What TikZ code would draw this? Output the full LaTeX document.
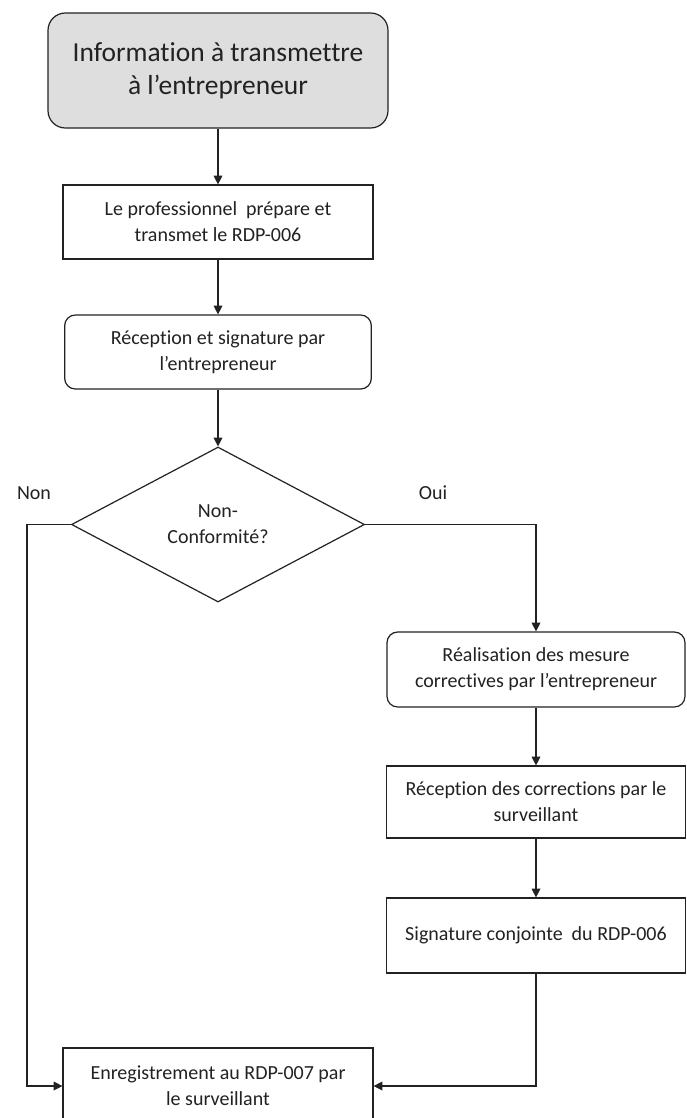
\documentclass[tikz,border=0pt]{standalone}
\usepackage{fontspec}
\setmainfont{Carlito}[Ligatures=NoCommon]
\usetikzlibrary{shapes.geometric,arrows.meta}
\definecolor{boxgray}{HTML}{DEDEDE}
\definecolor{ink}{HTML}{222222}
\tikzset{
  etape/.style={draw=ink,line width=0.9pt,text=ink,align=center,
    font=\fontsize{15}{19.5}\selectfont,minimum width=232.5pt,minimum height=55.5pt,inner sep=2pt},
  etaperonde/.style={etape,rounded corners=8pt},
  decision/.style={etape,diamond,aspect=1.89,minimum width=219.75pt,minimum height=116.25pt,inner sep=0pt},
  reponse/.style={text=ink,font=\fontsize{15}{19.5}\selectfont},
  fleche/.style={draw=ink,line width=0.9pt,-{Triangle[width=6.5pt,length=6.5pt]}},
}
\begin{document}
\begin{tikzpicture}[x=0.75pt,y=-0.75pt]
    \clip (0,0) rectangle (686,1118);
    \fill[white] (0,0) rectangle (686,1118);
    \node[etaperonde,fill=boxgray,rounded corners=13pt,minimum width=255pt,minimum height=86.25pt,
        font=\fontsize{20.6}{25}\selectfont] (info) at (218,70.5) {Information à transmettre\\à l’entrepreneur};
    \node[etape] (prof) at (218,222) {Le professionnel~ prépare et\\transmet le RDP-006};
    \node[etaperonde,minimum width=230pt] (recep) at (218,352) {Réception et signature par\\l’entrepreneur};
    \node[decision] (nc) at (218,524.5) {Non-\\Conformité?};
    \node[reponse] (non) at (34,493) {Non};
    \node[reponse] (oui) at (433,493) {Oui};
    \node[etaperonde,minimum width=223.5pt,minimum height=56.25pt] (real) at (536,669.5) {Réalisation des mesure\\correctives par l’entrepreneur};
    \node[etape,minimum width=224pt,minimum height=54pt] (corr) at (536,802) {Réception des corrections par le\\surveillant};
    \node[etape,minimum width=224pt,minimum height=56.25pt] (sign) at (536,935.5) {Signature conjointe~ du RDP-006};
    \node[etape,minimum height=57pt] (enreg) at (218,1086) {Enregistrement au RDP-007 par\\le surveillant};
    \coordinate (coin) at (27,524.5);
    \draw[fleche] (info) -- (prof);
    \draw[fleche] (prof) -- (recep);
    \draw[fleche] (recep) -- (nc);
    \draw[fleche] (nc.east) -| (real.north);
    \draw[fleche] (real) -- (corr);
    \draw[fleche] (corr) -- (sign);
    \draw[fleche] (sign.south) |- (enreg.east);
    \draw[fleche] (nc.west) -- (coin) |- (enreg.west);
\end{tikzpicture}
\end{document}
